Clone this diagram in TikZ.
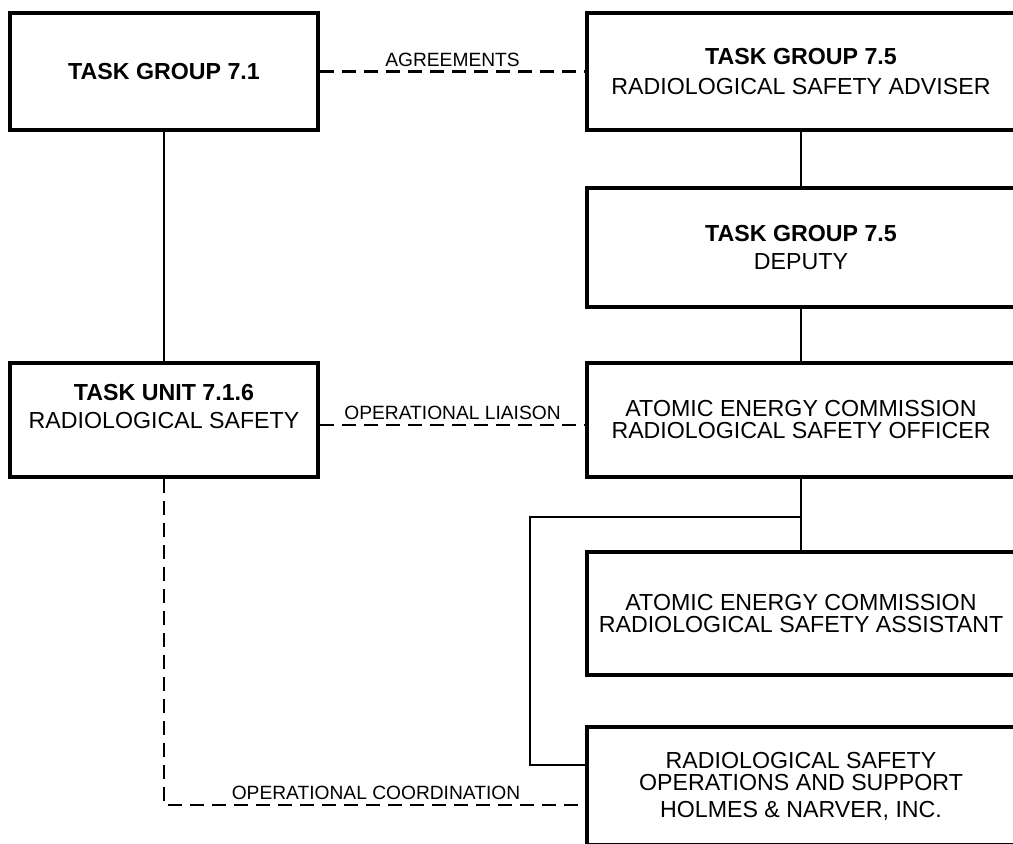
\documentclass[tikz,border=0pt]{standalone}
\usepackage{fontspec}
\setmainfont{Liberation Sans}
\tikzset{
  orgbox/.style={draw, line width=2.2pt, rectangle, align=center, inner sep=0pt,
    font=\fontsize{11.6}{11}\selectfont},
  leftbox/.style={orgbox, minimum width=154pt},
  rightbox/.style={orgbox, minimum width=214pt},
  chain/.style={line width=1.2pt},
  liaison/.style={line width=1.3pt, dash pattern=on 7pt off 4pt},
  linklabel/.style={above, inner sep=2pt, font=\fontsize{9.6}{11}\selectfont}
}
\begin{document}
\begin{tikzpicture}[x=0.5pt,y=-0.5pt]
            \useasboundingbox (0,0) rectangle (1013,844);
            \clip (0,0) rectangle (1013,844);

            % linke Seite
            \node[leftbox, minimum height=58.5pt] (tgone) at (164,71.5) {\textbf{TASK GROUP 7.1}};
            \node[leftbox, minimum height=57pt] (tuone) at (164,420) {\textbf{TASK UNIT 7.1.6}\\[3pt]RADIOLOGICAL SAFETY\\[3pt]\mbox{}};

            % rechte Seite
            \node[rightbox, minimum height=58.5pt] (tgfive) at (801,71.5) {\textbf{TASK GROUP 7.5}\\[4pt]RADIOLOGICAL SAFETY ADVISER};
            \node[rightbox, minimum height=59.5pt] (deputy) at (801,247.5) {\textbf{TASK GROUP 7.5}\\[3pt]DEPUTY};
            \node[rightbox, minimum height=57pt] (aecrso) at (801,420) {ATOMIC ENERGY COMMISSION\\RADIOLOGICAL SAFETY OFFICER};
            \node[rightbox, minimum height=61.5pt] (aecrsa) at (801,613.5) {ATOMIC ENERGY COMMISSION\\RADIOLOGICAL SAFETY ASSISTANT};
            \node[rightbox, minimum height=59pt] (holmes) at (801,786) {RADIOLOGICAL SAFETY\\OPERATIONS AND SUPPORT\\[2.5pt]HOLMES \& NARVER, INC.};

            \coordinate (brk) at (530,517);
            \coordinate (hnup) at (588,765);
            \coordinate (hnlow) at (588,805);

            % Linien
            \draw[chain] (tgone.south) -- (tuone.north);
            \draw[chain] (tgfive.south) -- (deputy.north);
            \draw[chain] (deputy.south) -- (aecrso.north);
            \draw[chain] (aecrso.south) -- (aecrsa.north);
            \draw[chain] (aecrso.south |- brk) -- (brk) -- (brk |- hnup) -- (hnup);

            % Beschriftungen
            \draw[liaison] (tgone.east) -- node[linklabel] {AGREEMENTS} (tgfive.west);
            \draw[liaison] ([yshift=-2.5pt]tuone.east) -- node[linklabel] {OPERATIONAL LIAISON} ([yshift=-2.5pt]aecrso.west);
            \draw[liaison] (tuone.south) |- node[linklabel, pos=0.75] {OPERATIONAL COORDINATION} (hnlow);
\end{tikzpicture}
\end{document}
